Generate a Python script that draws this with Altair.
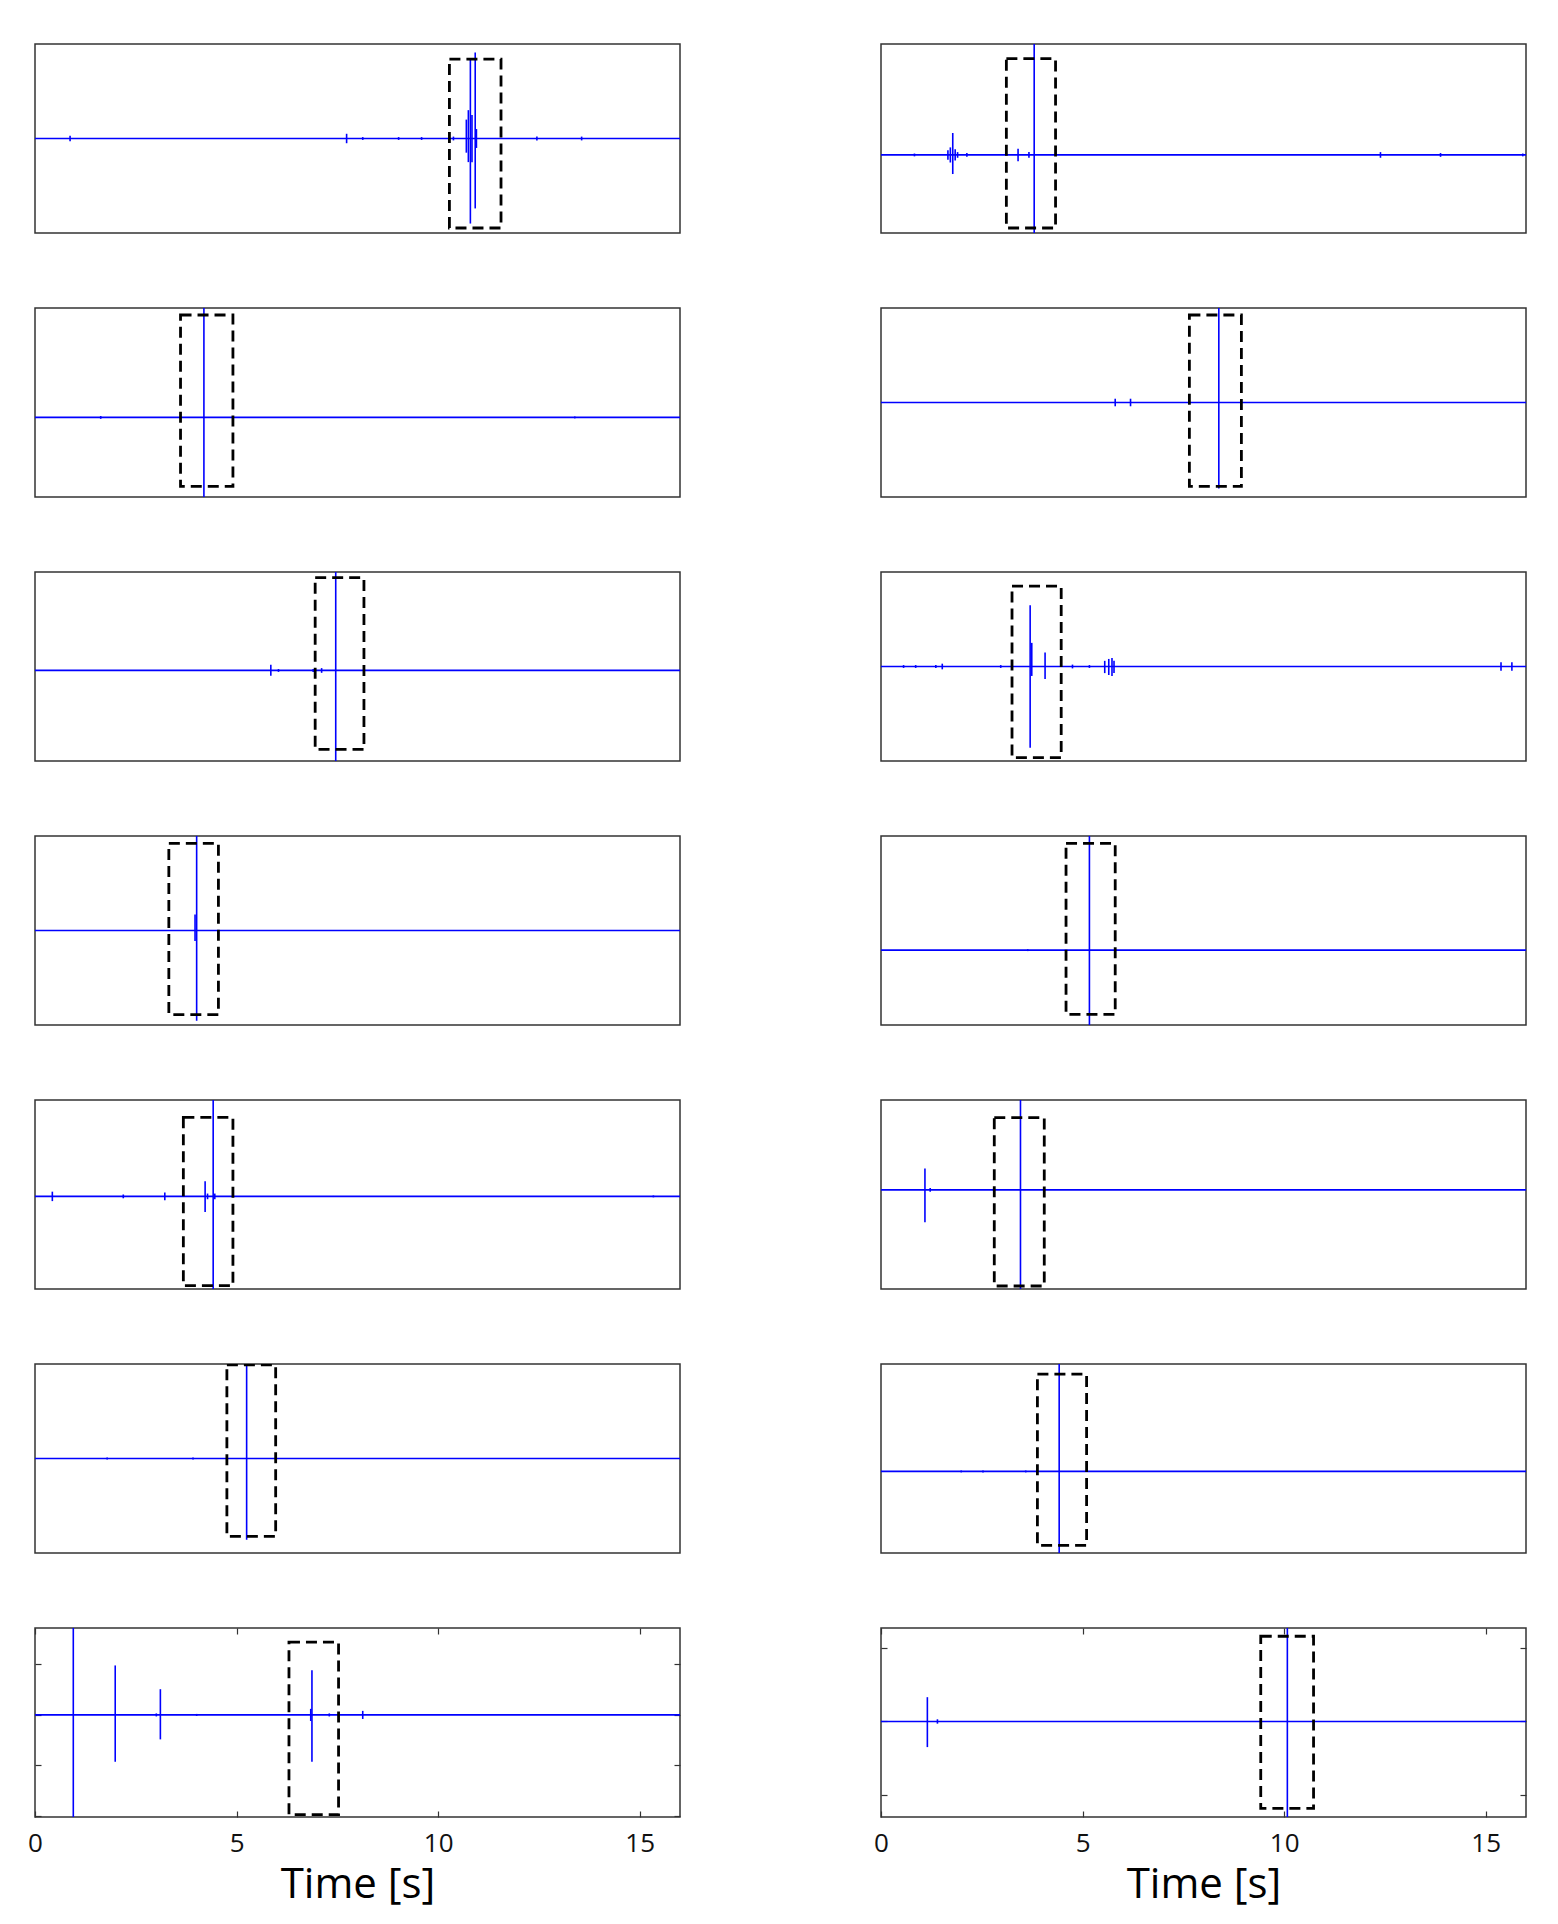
import altair as alt
import pandas as pd

# ---------------- data (time in s, normalised amplitude) ----------------
XTICKS = [0, 5, 10, 15]
T_RANGE = [0, 16]

# row 1 left
P1L_T = [0.87, 7.73, 8.13, 9.02, 9.59, 10.38, 10.70, 10.75, 10.80, 10.84, 10.92, 10.95, 12.45, 13.56]
P1L_HI = [0.03, 0.05, 0.015, 0.015, 0.015, 0.02, 0.2, 0.3, 0.85, 0.25, 0.91, 0.1, 0.02, 0.02]
P1L_LO = [-0.03, -0.05, -0.015, -0.015, -0.015, -0.02, -0.15, -0.25, -0.90, -0.25, -0.74, -0.1, -0.02, -0.02]
P1L_BOX = [10.28, 11.56, -0.947, 0.84]
P1L_YDOM = [-1.0, 1.0]

# row 1 right
P1R_T = [0.83, 1.66, 1.72, 1.78, 1.84, 1.90, 2.13, 3.40, 3.67, 3.80, 12.39, 13.88, 15.92]
P1R_HI = [0.015, 0.05, 0.08, 0.232, 0.06, 0.03, 0.02, 0.066, 0.03, 2.0, 0.03, 0.02, 0.015]
P1R_LO = [-0.015, -0.05, -0.08, -0.202, -0.06, -0.03, -0.02, -0.068, -0.03, -2.0, -0.03, -0.02, -0.015]
P1R_BOX = [3.11, 4.33, -0.773, 1.019]
P1R_YDOM = [-0.826, 1.174]

# row 2 left
P2L_T = [1.63, 4.19, 13.39]
P2L_HI = [0.015, 2.0, 0.01]
P2L_LO = [-0.015, -2.0, -0.01]
P2L_BOX = [3.61, 4.91, -0.730, 1.084]
P2L_YDOM = [-0.842, 1.158]

# row 2 right
P2R_T = [5.81, 6.19, 8.38]
P2R_HI = [0.04, 0.04, 2.0]
P2R_LO = [-0.04, -0.04, -0.909]
P2R_BOX = [7.65, 8.94, -0.888, 0.926]
P2R_YDOM = [-1.0, 1.0]

# row 3 left
P3L_T = [5.85, 6.04, 6.90, 7.11, 7.46]
P3L_HI = [0.06, 0.015, 0.015, 0.025, 2.0]
P3L_LO = [-0.056, -0.015, -0.015, -0.025, -2.0]
P3L_BOX = [6.95, 8.16, -0.836, 0.982]
P3L_YDOM = [-0.958, 1.042]

# row 3 right
P3R_T = [0.56, 0.86, 1.36, 1.52, 2.97, 3.70, 3.74, 4.07, 4.75, 5.17, 5.55, 5.65, 5.73, 5.78, 15.38, 15.65]
P3R_HI = [0.015, 0.015, 0.015, 0.03, 0.015, 0.649, 0.25, 0.147, 0.02, 0.015, 0.06, 0.08, 0.09, 0.06, 0.045, 0.045]
P3R_LO = [-0.015, -0.015, -0.015, -0.03, -0.015, -0.86, -0.1, -0.133, -0.02, -0.015, -0.07, -0.09, -0.1, -0.07, -0.045, -0.045]
P3R_BOX = [3.25, 4.47, -0.965, 0.85]
P3R_YDOM = [-1.0, 1.0]

# row 4 left
P4L_T = [3.97, 4.01]
P4L_HI = [0.17, 2.0]
P4L_LO = [-0.11, -0.954]
P4L_BOX = [3.32, 4.55, -0.89, 0.923]
P4L_YDOM = [-1.0, 1.0]

# row 4 right
P4R_T = [3.64, 5.17]
P4R_HI = [0.01, 2.0]
P4R_LO = [-0.01, -2.0]
P4R_BOX = [4.59, 5.81, -0.68, 1.13]
P4R_YDOM = [-0.792, 1.208]

# row 5 left
P5L_T = [0.43, 2.19, 3.22, 4.22, 4.28, 4.42, 4.46, 15.34]
P5L_HI = [0.05, 0.02, 0.04, 0.16, 0.03, 2.0, 0.03, 0.01]
P5L_LO = [-0.05, -0.02, -0.04, -0.165, -0.03, -2.0, -0.03, -0.01]
P5L_BOX = [3.68, 4.91, -0.945, 0.837]
P5L_YDOM = [-0.98, 1.02]

# row 5 right
P5R_T = [1.09, 1.22, 2.79, 3.46]
P5R_HI = [0.226, 0.02, 0.01, 2.0]
P5R_LO = [-0.344, -0.02, -0.01, -2.0]
P5R_BOX = [2.81, 4.05, -1.018, 0.764]
P5R_YDOM = [-1.05, 0.95]

# row 6 left
P6L_T = [1.79, 3.92, 5.25]
P6L_HI = [0.01, 0.01, 2.0]
P6L_LO = [-0.01, -0.01, -0.859]
P6L_BOX = [4.76, 5.97, -0.824, 0.99]
P6L_YDOM = [-1.0, 1.0]

# row 6 right
P6R_T = [1.99, 2.53, 3.59, 4.42]
P6R_HI = [0.01, 0.01, 0.01, 2.0]
P6R_LO = [-0.01, -0.01, -0.01, -2.0]
P6R_BOX = [3.88, 5.10, -0.783, 1.03]
P6R_YDOM = [-0.863, 1.137]

# row 7 left (with axes)
P7L_T = [0.95, 1.99, 3.01, 3.11, 4.01, 6.84, 6.87, 7.30, 8.13]
P7L_HI = [3.0, 0.979, 0.03, 0.509, 0.02, 0.12, 0.885, 0.03, 0.08]
P7L_LO = [-3.0, -0.927, -0.03, -0.484, -0.02, -0.12, -0.927, -0.03, -0.08]
P7L_BOX = [6.30, 7.53, -1.973, 1.442]
P7L_YDOM = [-2.02, 1.72]
P7L_YTICKS = [-2, -1, 0, 1]

# row 7 right (with axes)
P7R_T = [1.15, 1.40, 10.08]
P7R_HI = [0.332, 0.03, 3.0]
P7R_LO = [-0.35, -0.03, -3.0]
P7R_BOX = [9.42, 10.73, -1.186, 1.164]
P7R_YDOM = [-1.305, 1.277]
P7R_YTICKS = [-1, 0, 1]

X_TITLE = "Time [s]"

# ---------------- chart construction ----------------
W, H = 645, 189
BLUE = "#0000ff"
FRAME = "#333333"
TICK = 6
FONT = "Open Sans"


def panel(t, hi, lo, box, ydom, yticks=None):
    xs = alt.Scale(domain=T_RANGE, nice=False, zero=False)
    ys = alt.Scale(domain=ydom, nice=False, zero=False)
    base_df = pd.DataFrame({"t0": [T_RANGE[0]], "t1": [T_RANGE[1]], "v": [0.0]})
    spk_df = pd.DataFrame({"t": t, "hi": hi, "lo": lo})
    box_df = pd.DataFrame({"t0": [box[0]], "t1": [box[1]], "y0": [box[2]], "y1": [box[3]]})

    with_axes = yticks is not None
    common_tick = dict(offset=-TICK, tickSize=TICK, domain=False, grid=False,
                       tickColor=FRAME, tickWidth=1.2)
    if with_axes:
        ax_xb = alt.Axis(orient="bottom", values=XTICKS, labels=True, labelFont=FONT,
                         labelFontSize=26, labelColor="#111111", labelPadding=13,
                         labelFlush=False, format="d", title=X_TITLE, titleFont=FONT,
                         titleFontSize=42, titleFontWeight="normal", titleColor="black",
                         titlePadding=8, **common_tick)
        ax_yl = alt.Axis(orient="left", values=yticks, labels=False, title=None, **common_tick)
        ax_xt = alt.Axis(orient="top", values=XTICKS, labels=False, title=None, **common_tick)
        ax_yr = alt.Axis(orient="right", values=yticks, labels=False, title=None, **common_tick)
    else:
        ax_xb = ax_yl = ax_xt = ax_yr = None

    baseline = alt.Chart(base_df).mark_rule(color=BLUE, strokeWidth=1.7, clip=True).encode(
        x=alt.X("t0:Q", scale=xs, axis=ax_xb),
        x2="t1:Q",
        y=alt.Y("v:Q", scale=ys, axis=ax_yl),
    )
    spikes = alt.Chart(spk_df).mark_rule(color=BLUE, strokeWidth=1.6, clip=True).encode(
        x=alt.X("t:Q", scale=xs, axis=ax_xt),
        y=alt.Y("lo:Q", scale=ys, axis=ax_yr),
        y2="hi:Q",
    )
    rect = alt.Chart(box_df).mark_rect(filled=False, stroke="black", strokeWidth=2.8,
                                       strokeDash=[11, 6], clip=True).encode(
        x=alt.X("t0:Q", scale=xs, axis=None),
        x2="t1:Q",
        y=alt.Y("y0:Q", scale=ys, axis=None),
        y2="y1:Q",
    )
    layer = alt.layer(baseline, spikes, rect).properties(width=W, height=H)
    if with_axes:
        layer = layer.resolve_axis(x="independent", y="independent")
    return layer


panels = [
    panel(P1L_T, P1L_HI, P1L_LO, P1L_BOX, P1L_YDOM),
    panel(P1R_T, P1R_HI, P1R_LO, P1R_BOX, P1R_YDOM),
    panel(P2L_T, P2L_HI, P2L_LO, P2L_BOX, P2L_YDOM),
    panel(P2R_T, P2R_HI, P2R_LO, P2R_BOX, P2R_YDOM),
    panel(P3L_T, P3L_HI, P3L_LO, P3L_BOX, P3L_YDOM),
    panel(P3R_T, P3R_HI, P3R_LO, P3R_BOX, P3R_YDOM),
    panel(P4L_T, P4L_HI, P4L_LO, P4L_BOX, P4L_YDOM),
    panel(P4R_T, P4R_HI, P4R_LO, P4R_BOX, P4R_YDOM),
    panel(P5L_T, P5L_HI, P5L_LO, P5L_BOX, P5L_YDOM),
    panel(P5R_T, P5R_HI, P5R_LO, P5R_BOX, P5R_YDOM),
    panel(P6L_T, P6L_HI, P6L_LO, P6L_BOX, P6L_YDOM),
    panel(P6R_T, P6R_HI, P6R_LO, P6R_BOX, P6R_YDOM),
    panel(P7L_T, P7L_HI, P7L_LO, P7L_BOX, P7L_YDOM, P7L_YTICKS),
    panel(P7R_T, P7R_HI, P7R_LO, P7R_BOX, P7R_YDOM, P7R_YTICKS),
]

chart = alt.concat(
    *panels, columns=2, spacing={"row": 75, "column": 201}, bounds="flush"
).properties(
    padding={"left": 18, "top": 35, "right": 5, "bottom": 5},
    background="white",
).configure_view(
    stroke=FRAME, strokeWidth=1.5
)

chart.save("out.html", embed_options={"renderer": "svg", "actions": False})
